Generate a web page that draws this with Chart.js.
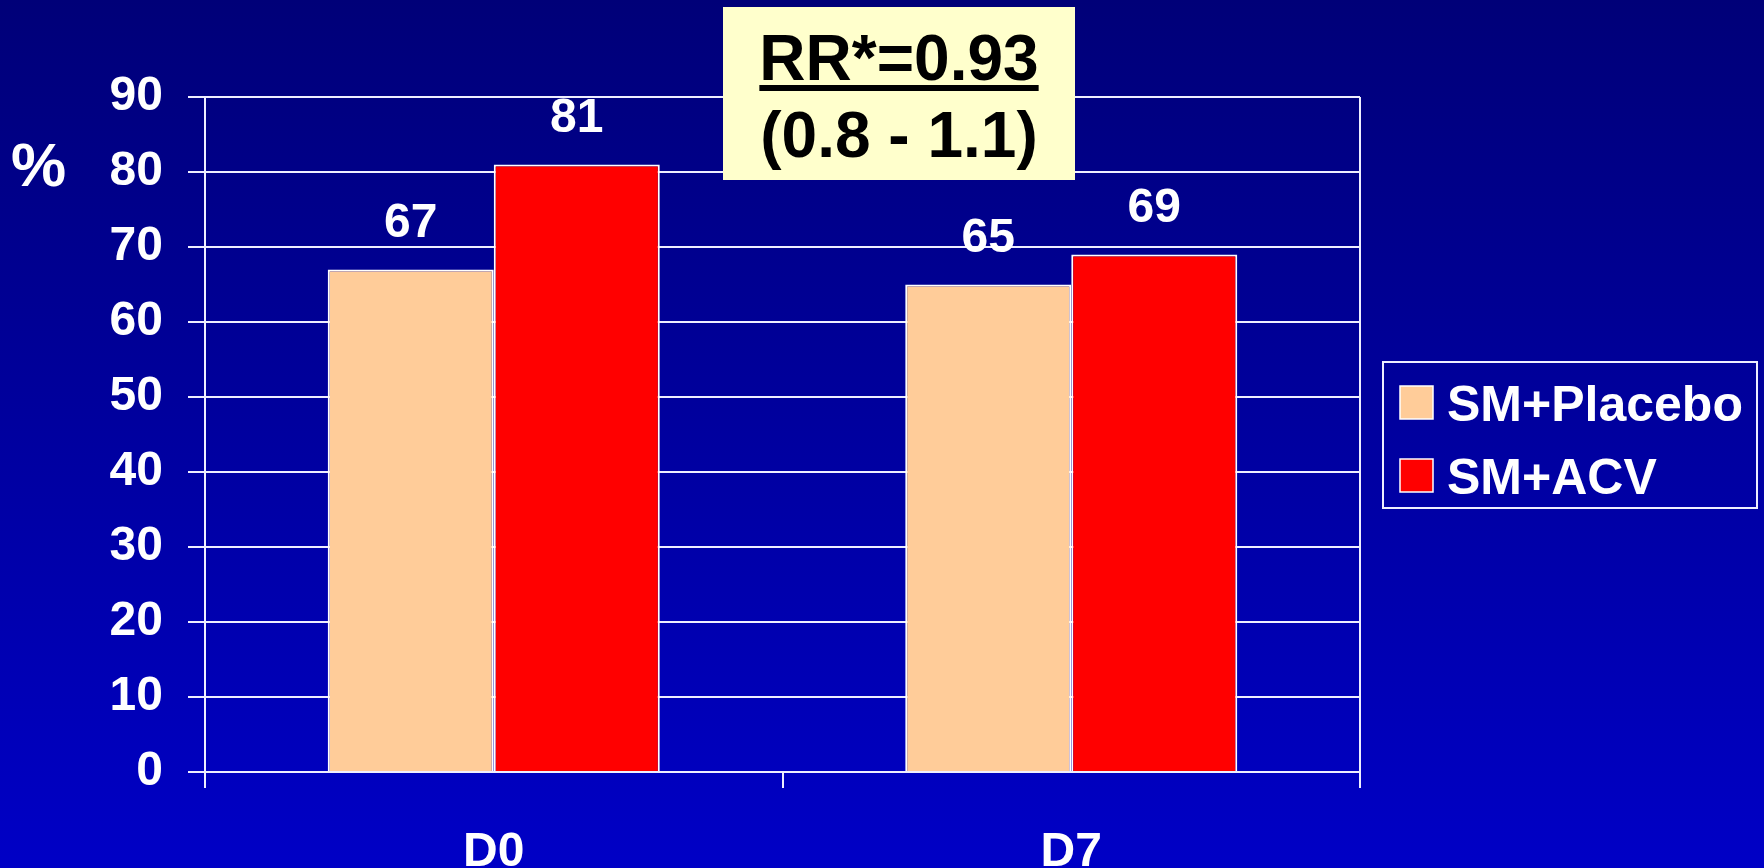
<!DOCTYPE html>
<html>
<head>
<meta charset="utf-8">
<script src="https://cdn.jsdelivr.net/npm/chart.js@4/dist/chart.umd.min.js"></script>
<style>
  html, body { margin: 0; padding: 0; background: #00009e; }
  #wrap { width: 1764px; height: 868px; position: relative; }
</style>
</head>
<body>
<div id="wrap"><canvas id="c" width="1764" height="868"></canvas></div>
<script>
// Visits (days) and percentage of patients per arm
const categories = ['D0', 'D7'];
const placeboValues = [67, 65];
const acvValues = [81, 69];
const seriesNames = ['SM+Placebo', 'SM+ACV'];
const seriesColors = ['#FFCC99', '#FF0000'];
const yTicks = [0, 10, 20, 30, 40, 50, 60, 70, 80, 90];
const rrLines = ['RR*=0.93', '(0.8 - 1.1)'];
const yUnit = '%';

const FONT = '"Liberation Sans", Arial, Helvetica, sans-serif';
const LINE = '#EEEEFF';

// Slide background: vertical navy-to-blue gradient
const backgroundPlugin = {
  id: 'slideBackground',
  beforeDraw(chart) {
    const { ctx, width, height } = chart;
    const g = ctx.createLinearGradient(0, 0, 0, height);
    g.addColorStop(0, '#000078');
    g.addColorStop(1, '#0000C6');
    ctx.save();
    ctx.fillStyle = g;
    ctx.fillRect(0, 0, width, height);
    ctx.restore();
  }
};

// Right frame edge of the plot area
const frameEdgePlugin = {
  id: 'frameEdge',
  beforeDatasetsDraw(chart) {
    const { ctx, chartArea } = chart;
    ctx.save();
    ctx.strokeStyle = LINE;
    ctx.lineWidth = 2;
    ctx.beginPath();
    ctx.moveTo(chartArea.right, chartArea.top);
    ctx.lineTo(chartArea.right, chartArea.bottom);
    ctx.stroke();
    ctx.restore();
  }
};

// Value labels above each bar, unit sign, legend and risk-ratio box
const overlayPlugin = {
  id: 'overlay',
  afterDraw(chart) {
    const { ctx, chartArea } = chart;
    ctx.save();

    // values on top of bars
    ctx.fillStyle = '#FFFFFF';
    ctx.font = 'bold 48px ' + FONT;
    ctx.textAlign = 'center';
    ctx.textBaseline = 'alphabetic';
    chart.data.datasets.forEach((ds, di) => {
      chart.getDatasetMeta(di).data.forEach((bar, i) => {
        ctx.fillText(String(ds.data[i]), bar.x, bar.y - 33);
      });
    });

    // unit sign next to the value axis
    ctx.font = 'bold 62px ' + FONT;
    ctx.textAlign = 'left';
    ctx.fillText(yUnit, 11, 186);

    // legend box
    const lx = 1383, ly = 362, lw = 374, lh = 146;
    ctx.strokeStyle = LINE;
    ctx.lineWidth = 2;
    ctx.strokeRect(lx, ly, lw, lh);
    const rowBase = [421, 494];
    chart.data.datasets.forEach((ds, di) => {
      const sy = rowBase[di] - 35;
      ctx.fillStyle = ds.backgroundColor;
      ctx.fillRect(1400, sy, 33, 33);
      ctx.strokeStyle = '#FFFFFF';
      ctx.lineWidth = 1.5;
      ctx.strokeRect(1400, sy, 33, 33);
      ctx.fillStyle = '#FFFFFF';
      ctx.font = 'bold 50px ' + FONT;
      ctx.textAlign = 'left';
      ctx.fillText(ds.label, 1447, rowBase[di]);
    });

    // risk-ratio box
    ctx.fillStyle = '#FFFFCC';
    ctx.fillRect(723, 7, 352, 173);
    ctx.fillStyle = '#000000';
    ctx.font = 'bold 64px ' + FONT;
    ctx.textAlign = 'center';
    const cx = 899;
    ctx.fillText(rrLines[0], cx, 80);
    const w = ctx.measureText(rrLines[0]).width;
    ctx.fillRect(cx - w / 2, 85, w, 6);
    ctx.fillText(rrLines[1], cx, 157);

    ctx.restore();
  }
};

new Chart(document.getElementById('c'), {
  type: 'bar',
  data: {
    labels: categories,
    datasets: [
      { label: seriesNames[0], data: placeboValues, backgroundColor: seriesColors[0],
        borderColor: '#FFFFFF', borderWidth: 2, categoryPercentage: 0.575, barPercentage: 1.0 },
      { label: seriesNames[1], data: acvValues, backgroundColor: seriesColors[1],
        borderColor: '#FFFFFF', borderWidth: 2, categoryPercentage: 0.575, barPercentage: 1.0 }
    ]
  },
  options: {
    responsive: false,
    animation: false,
    devicePixelRatio: 1,
    layout: { padding: { left: 0, right: 404, top: 97, bottom: 0 } },
    plugins: {
      legend: { display: false },
      tooltip: { enabled: false }
    },
    scales: {
      x: {
        offset: true,
        grid: {
          offset: true,
          drawOnChartArea: false,
          drawTicks: true,
          tickLength: 16,
          color: LINE,
          lineWidth: 2
        },
        border: { display: true, color: LINE, width: 2 },
        ticks: {
          color: '#FFFFFF',
          font: { family: FONT, size: 48, weight: 'bold' },
          padding: 36
        },
        afterFit(scale) { scale.height = 96; }
      },
      y: {
        min: yTicks[0],
        max: yTicks[yTicks.length - 1],
        afterBuildTicks(scale) { scale.ticks = yTicks.map(v => ({ value: v })); },
        grid: {
          color: LINE,
          lineWidth: 2,
          drawTicks: true,
          tickLength: 17
        },
        border: { display: true, color: LINE, width: 2 },
        ticks: {
          color: '#FFFFFF',
          font: { family: FONT, size: 48, weight: 'bold' },
          padding: 25
        },
        afterFit(scale) { scale.width = 205; }
      }
    }
  },
  plugins: [backgroundPlugin, frameEdgePlugin, overlayPlugin]
});
</script>
</body>
</html>
